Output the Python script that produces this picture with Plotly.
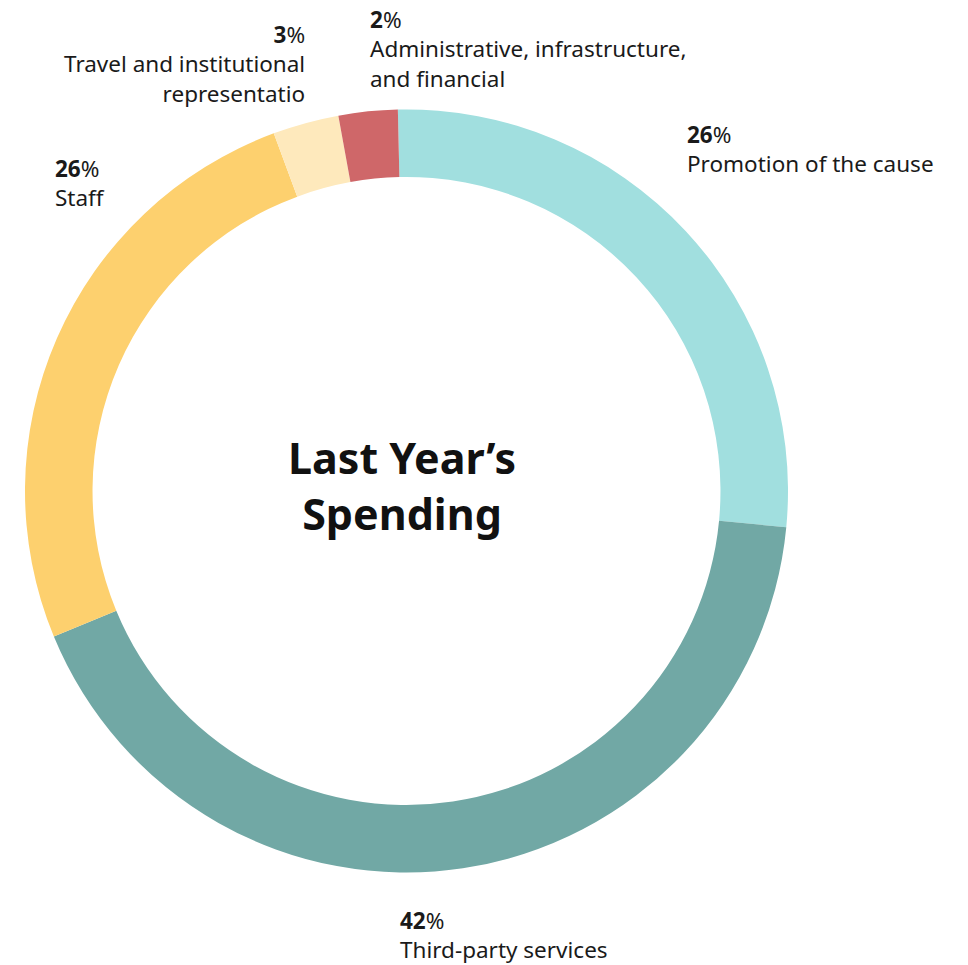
import plotly.graph_objects as go

categories = ["Promotion of the cause", "Third-party services", "Staff",
              "Travel and institutional representatio", "Administrative, infrastructure, and financial"]
values = [26.9, 42.3, 25.6, 2.8, 2.5]
pct_labels = ["26", "42", "26", "3", "2"]
colors = ["#A1DFDF", "#71A8A5", "#FDD06E", "#FEE9BC", "#CF6769"]

W, H = 968, 965
cx, cy, R = 406.5, 491, 381.5

fig = go.Figure(go.Pie(
    labels=categories, values=values, sort=False, direction="clockwise",
    rotation=-1.3, hole=0.823, textinfo="none", hoverinfo="label+percent",
    marker=dict(colors=colors, line=dict(width=0)),
    domain=dict(x=[(cx - R) / W, (cx + R) / W], y=[1 - (cy + R) / H, 1 - (cy - R) / H]),
    showlegend=False,
))

font = "Noto Sans, sans-serif"
fs = 22.5

def label(i, text_lines, px, py, anchor):
    txt = "<b>" + pct_labels[i] + "</b>%<br>" + "<br>".join(text_lines)
    fig.add_annotation(x=px / W, y=1 - py / H, xref="paper", yref="paper",
                       xanchor=anchor, yanchor="top", align=anchor, showarrow=False,
                       text=txt, font=dict(family=font, size=fs, color="#1a1a1a"))

label(0, ["Promotion of the cause"], 685, 117, "left")
label(1, ["Third-party services"], 398, 903, "left")
label(2, ["Staff"], 53, 151, "left")
label(3, ["Travel and institutional", "representatio"], 307, 17, "right")
label(4, ["Administrative, infrastructure,", "and financial"], 368, 2, "left")

fig.add_annotation(x=cx / W - 0.005, y=1 - 485 / H, xref="paper", yref="paper",
                   xanchor="center", yanchor="middle", showarrow=False,
                   text="<b>Last Year’s<br>Spending</b>",
                   font=dict(family=font, size=43, color="#111111"))

fig.update_layout(width=W, height=H, margin=dict(l=0, r=0, t=0, b=0),
                  paper_bgcolor="white", plot_bgcolor="white")
fig.write_html("out.html", config={"displayModeBar": False},
               post_script="document.body.style.margin='0';document.body.style.overflow='hidden';")
